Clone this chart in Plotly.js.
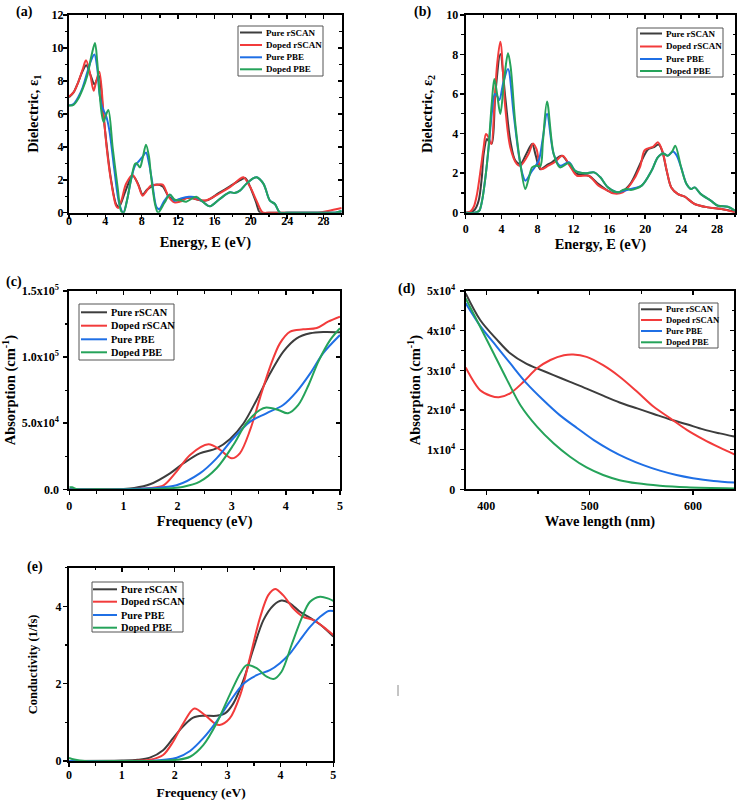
<!DOCTYPE html>
<html>
<head>
<meta charset="utf-8">
<script src="https://cdn.plot.ly/plotly-3.0.1.min.js"></script>
<style>
  html, body { margin: 0; padding: 0; background: #ffffff; }
  #chart { width: 738px; height: 800px; }
</style>
</head>
<body>
<div id="chart"></div>
<script>
// Series names shared by every panel
const seriesNames = ['Pure rSCAN', 'Doped rSCAN', 'Pure PBE', 'Doped PBE'];
const panelLabels = ['(a)', '(b)', '(c)', '(d)', '(e)'];

// (a) Real part of the dielectric function, epsilon_1 vs energy (eV)
const epsRealPureScanE  = [0, 0.5, 1.0, 1.5, 1.9, 2.4, 2.8, 3.3, 3.7, 4.1, 4.6, 5.2, 5.5, 6.2, 7.0, 7.6, 8.1, 8.6, 9.5, 10.3, 11.0, 11.8, 12.5, 13.3, 14.4, 15.2, 16.5, 17.7, 18.9, 19.4, 19.9, 20.6, 21.0, 22, 24, 26, 28, 30];
const epsRealPureScan   = [7.0, 7.3, 7.9, 8.6, 8.95, 8.3, 7.8, 8.3, 6.4, 4.3, 2.1, 0.5, 0.35, 1.3, 2.25, 1.75, 1.1, 1.4, 1.7, 1.6, 0.95, 0.75, 0.85, 0.9, 0.75, 0.75, 1.2, 1.6, 2.0, 2.1, 1.6, 0.6, 0.02, 0, 0, 0, 0, 0];
const epsRealDopedScanE = [0, 0.5, 1.0, 1.5, 1.87, 2.3, 2.71, 3.0, 3.34, 3.8, 4.14, 4.62, 5.17, 5.4, 5.8, 6.27, 7.0, 7.6, 8.1, 8.5, 9.0, 9.75, 10.3, 11.0, 11.6, 12.2, 13.1, 14.4, 15.1, 16.5, 17.7, 18.8, 19.2, 19.9, 20.65, 21.3, 22, 24, 26, 27.4, 28.5, 30];
const epsRealDopedScan  = [7.05, 7.3, 7.9, 8.7, 9.25, 8.5, 7.4, 8.0, 8.55, 6.0, 3.97, 1.94, 0.43, 0.28, 0.8, 1.74, 2.29, 1.7, 1.03, 1.3, 1.64, 1.7, 1.7, 0.93, 0.63, 0.67, 0.9, 0.77, 0.75, 1.15, 1.55, 2.05, 2.15, 1.6, 0.7, 0.02, 0, 0, 0, 0, 0.1, 0.28];
const epsRealPurePbeE   = [0, 0.5, 1.0, 1.5, 2.0, 2.4, 2.79, 3.1, 3.34, 3.6, 3.81, 4.07, 4.44, 5.0, 5.54, 5.98, 6.4, 6.8, 7.26, 7.74, 8.1, 8.47, 8.8, 9.13, 9.64, 9.94, 10.5, 11.1, 11.6, 12.3, 13.2, 14.0, 14.7, 15.5, 16.6, 17.7, 18.2, 18.8, 19.5, 20.3, 20.65, 21.4, 22.1, 22.65, 23.2, 24, 26, 28, 29.3, 30];
const epsRealPurePbe    = [6.5, 6.6, 7.0, 7.6, 8.5, 9.2, 9.6, 8.8, 7.3, 6.5, 6.2, 5.9, 5.0, 2.55, 0.53, 0.0, 0.8, 1.94, 2.85, 3.16, 3.4, 3.66, 3.0, 1.94, 0.32, 0.22, 0.73, 1.09, 0.73, 0.87, 0.97, 0.93, 0.67, 0.39, 0.84, 1.24, 1.2, 1.34, 1.75, 2.1, 2.15, 1.75, 0.73, 0.53, 0, 0, 0, 0, 0, 0.1];
const epsRealDopedPbeE  = [0, 0.5, 1.0, 1.5, 2.0, 2.5, 2.86, 3.1, 3.34, 3.6, 3.81, 4.05, 4.33, 4.8, 5.35, 5.72, 6.0, 6.4, 6.8, 7.26, 7.44, 7.8, 8.1, 8.47, 8.8, 9.0, 9.5, 9.8, 10.5, 11.1, 11.6, 12.3, 12.9, 14.0, 14.7, 15.5, 16.6, 17.7, 18.2, 18.8, 19.5, 20.3, 20.65, 21.4, 22.1, 22.65, 23.2, 24, 26, 28, 29.3, 30];
const epsRealDopedPbe   = [6.5, 6.55, 6.9, 7.5, 8.3, 9.6, 10.3, 9.2, 7.4, 6.0, 5.5, 5.9, 6.23, 3.97, 1.54, 0.12, 0, 0.8, 1.94, 2.96, 3.0, 2.75, 3.3, 4.13, 3.4, 2.35, 0.43, 0, 0.6, 1.1, 0.8, 0.75, 0.67, 0.97, 0.67, 0.39, 0.84, 1.24, 1.2, 1.34, 1.75, 2.1, 2.15, 1.75, 0.73, 0.53, 0, 0, 0, 0, 0, 0.1];

// (b) Imaginary part of the dielectric function, epsilon_2 vs energy (eV)
const epsImagPureScanE  = [0, 0.5, 1.0, 1.44, 1.8, 2.0, 2.37, 2.6, 2.9, 3.3, 3.86, 4.41, 4.97, 5.53, 6.09, 6.83, 7.4, 7.8, 8.3, 9.0, 9.6, 10.7, 11.5, 12.4, 13.7, 14.8, 15.85, 16.4, 17.5, 18.4, 19.6, 20.3, 20.9, 21.5, 21.9, 22.4, 22.9, 23.65, 24.4, 25.5, 27.0, 28.5, 30];
const epsImagPureScan   = [0, 0.02, 0.15, 0.6, 1.8, 2.97, 3.73, 3.6, 3.5, 6.0, 8.03, 5.83, 3.64, 2.63, 2.46, 3.05, 3.47, 2.9, 2.2, 2.4, 2.55, 2.88, 2.46, 1.96, 1.87, 1.45, 1.11, 1.0, 1.1, 1.5, 2.63, 3.2, 3.3, 3.45, 3.1, 2.1, 1.28, 0.94, 0.81, 0.44, 0.27, 0.19, 0.05];
const epsImagDopedScanE = [0, 0.5, 0.9, 1.26, 1.7, 2.0, 2.26, 2.55, 2.86, 3.2, 3.5, 3.86, 4.41, 4.97, 5.7, 6.09, 7.0, 7.5, 7.9, 8.4, 9.2, 9.9, 10.8, 11.7, 12.4, 13.7, 14.8, 15.85, 16.4, 17.5, 18.4, 19.4, 19.9, 20.3, 20.9, 21.4, 21.9, 22.4, 22.9, 23.65, 24.4, 25.5, 27.0, 28.5, 30];
const epsImagDopedScan  = [0, 0.05, 0.3, 0.94, 2.3, 3.3, 3.98, 3.8, 3.47, 5.5, 7.5, 8.65, 5.3, 3.3, 2.46, 2.38, 2.97, 3.5, 3.2, 2.2, 2.38, 2.55, 2.88, 2.29, 1.87, 1.87, 1.37, 1.11, 0.98, 1.03, 1.45, 2.29, 3.14, 3.25, 3.34, 3.56, 3.14, 2.12, 1.28, 0.94, 0.81, 0.44, 0.27, 0.19, 0.02];
const epsImagPurePbeE   = [0, 1.0, 1.5, 1.82, 2.2, 2.56, 2.9, 3.23, 3.5, 3.75, 4.2, 4.71, 5.34, 5.9, 6.3, 6.64, 7.4, 8.13, 8.6, 9.06, 9.8, 10.5, 11.5, 12.2, 13.3, 14.3, 15.0, 15.85, 16.96, 17.5, 18.4, 19.6, 20.7, 21.4, 22.0, 22.5, 23.1, 23.5, 24.0, 24.6, 25.1, 25.5, 26.2, 27.3, 28.1, 29.2, 30];
const epsImagPurePbe    = [0, 0.0, 0.1, 0.6, 1.8, 3.3, 5.0, 6.0, 5.9, 5.7, 6.6, 7.27, 5.0, 2.97, 2.0, 1.62, 2.12, 2.63, 3.8, 5.0, 2.97, 2.38, 2.55, 2.12, 1.99, 2.04, 1.79, 1.28, 1.03, 1.1, 1.2, 1.37, 2.12, 2.8, 3.0, 2.88, 3.1, 2.9, 2.29, 1.45, 1.2, 1.28, 0.94, 0.61, 0.35, 0.3, 0.1];
const epsImagDopedPbeE  = [0, 1.0, 1.5, 1.82, 2.2, 2.56, 2.9, 3.19, 3.5, 3.86, 4.3, 4.71, 5.0, 5.53, 6.09, 6.64, 7.0, 7.4, 7.83, 8.3, 8.6, 9.06, 9.8, 10.5, 11.5, 12.2, 13.3, 14.3, 15.0, 15.85, 16.96, 17.5, 18.0, 18.4, 19.6, 20.7, 21.4, 22.0, 22.5, 23.0, 23.35, 24.0, 24.6, 25.1, 25.5, 26.2, 27.3, 28.1, 29.2, 30];
const epsImagDopedPbe   = [0, 0, 0.1, 0.6, 1.8, 3.4, 5.5, 6.76, 6.0, 4.99, 6.8, 8.06, 7.4, 4.49, 2.46, 1.2, 1.7, 2.29, 2.38, 2.35, 3.6, 5.63, 2.97, 2.29, 2.51, 2.12, 1.99, 2.04, 1.79, 1.28, 1.03, 1.15, 1.2, 1.15, 1.37, 2.12, 2.8, 3.0, 2.88, 3.1, 3.39, 2.29, 1.45, 1.2, 1.28, 0.94, 0.61, 0.35, 0.3, 0.1];

// (c) Absorption coefficient (cm^-1) vs photon frequency (eV)
const absPureScanF  = [0, 0.5, 1.0, 1.2, 1.49, 1.86, 2.11, 2.41, 2.72, 2.97, 3.22, 3.46, 3.71, 3.95, 4.2, 4.45, 4.69, 5.0];
const absPureScan   = [0, 0, 300, 1000, 3800, 12100, 19700, 27200, 31000, 38100, 50000, 67600, 87700, 104000, 114200, 118000, 119000, 118800];
const absDopedScanF = [0, 1.0, 1.49, 1.74, 1.98, 2.23, 2.57, 2.78, 3.0, 3.15, 3.34, 3.52, 3.71, 3.89, 4.08, 4.32, 4.57, 4.78, 5.0];
const absDopedScan  = [0, 0, 1000, 3000, 13400, 26000, 34000, 30000, 23400, 27200, 44900, 68800, 92800, 110400, 119300, 121000, 122000, 126800, 130600];
const absPurePbeF   = [0, 1.0, 1.49, 1.98, 2.41, 2.72, 3.03, 3.34, 3.64, 3.95, 4.2, 4.45, 4.69, 5.0];
const absPurePbe    = [0, 0, 800, 3000, 12000, 23400, 38600, 51200, 57500, 63800, 73900, 87700, 103000, 116700];
const absDopedPbeF  = [0, 0.05, 0.15, 0.5, 1.5, 2.11, 2.41, 2.72, 3.03, 3.27, 3.52, 3.64, 3.86, 4.04, 4.23, 4.42, 4.6, 4.82, 5.0];
const absDopedPbe   = [1500, 1500, 0, 0, 0, 2000, 5800, 15900, 33500, 50000, 60000, 61800, 60000, 57500, 63800, 78900, 96600, 113000, 121800];

// (d) Absorption coefficient (cm^-1) vs wavelength (nm)
const wavePureScanL  = [380, 394, 410, 423, 439, 449, 465, 481, 497, 513, 529, 546, 562, 578, 594, 610, 626, 640];
const wavePureScan   = [49400, 42700, 37800, 34300, 31600, 30500, 28800, 27100, 25400, 23600, 21900, 20400, 19000, 17600, 16400, 15100, 14100, 13300];
const waveDopedScanL = [380, 384, 394, 404, 412, 423, 436, 449, 462, 475, 484, 497, 513, 529, 546, 562, 578, 594, 610, 626, 640];
const waveDopedScan  = [30700, 28800, 25000, 23600, 23200, 24200, 27100, 30500, 32600, 33800, 34000, 33400, 31300, 28400, 24600, 20800, 17900, 15000, 12600, 10500, 8800];
const wavePurePbeL   = [380, 394, 410, 423, 439, 455, 471, 488, 504, 520, 536, 552, 568, 584, 600, 620, 640];
const wavePurePbe    = [46900, 41200, 36000, 31800, 26700, 22500, 18700, 15400, 12400, 9900, 7800, 6100, 4700, 3600, 2800, 2100, 1700];
const waveDopedPbeL  = [380, 394, 407, 420, 433, 449, 465, 481, 497, 513, 529, 546, 568, 594, 640];
const waveDopedPbe   = [48100, 41000, 34300, 27600, 21200, 15800, 11600, 8200, 5500, 3600, 2300, 1500, 900, 500, 200];

// (e) Optical conductivity (1/fs) vs frequency (eV)
const condPureScanF  = [0, 1.0, 1.3, 1.53, 1.78, 1.97, 2.16, 2.35, 2.54, 2.79, 2.95, 3.11, 3.3, 3.49, 3.68, 3.87, 4.02, 4.18, 4.37, 4.56, 4.75, 5.0];
const condPureScan   = [0, 0.01, 0.03, 0.086, 0.28, 0.59, 0.9, 1.12, 1.17, 1.17, 1.23, 1.49, 2.09, 2.91, 3.65, 4.03, 4.15, 4.08, 3.86, 3.7, 3.53, 3.22];
const condDopedScanF = [0, 1.0, 1.53, 1.78, 1.97, 2.16, 2.37, 2.57, 2.76, 2.85, 3.04, 3.24, 3.42, 3.61, 3.77, 3.9, 4.05, 4.24, 4.43, 4.62, 4.81, 5.0];
const condDopedScan  = [0, 0, 0.03, 0.155, 0.5, 0.97, 1.36, 1.19, 0.97, 0.93, 1.1, 1.71, 2.66, 3.69, 4.29, 4.45, 4.29, 3.95, 3.73, 3.65, 3.47, 3.26];
const condPurePbeF   = [0, 1.0, 1.53, 2.04, 2.29, 2.54, 2.79, 3.04, 3.3, 3.55, 3.8, 3.99, 4.18, 4.37, 4.56, 4.75, 4.91, 5.0];
const condPurePbe    = [0, 0, 0, 0.086, 0.26, 0.59, 1.02, 1.53, 2.0, 2.22, 2.35, 2.53, 2.78, 3.13, 3.47, 3.73, 3.88, 3.88];
const condDopedPbeF  = [0, 0.1, 0.3, 1.0, 1.53, 2.04, 2.29, 2.54, 2.79, 3.04, 3.24, 3.36, 3.55, 3.74, 3.87, 4.02, 4.21, 4.4, 4.56, 4.75, 4.91, 5.0];
const condDopedPbe   = [0.08, 0.04, 0, 0, 0, 0.03, 0.11, 0.41, 0.97, 1.71, 2.27, 2.48, 2.4, 2.18, 2.12, 2.31, 3.0, 3.69, 4.12, 4.25, 4.2, 4.14];

// Tick labels for the absorption panels
const absFreqTickVals = [0, 50000, 100000, 150000];
const absFreqTickText = ['0.0', '5.0x10<sup>4</sup>', '1.0x10<sup>5</sup>', '1.5x10<sup>5</sup>'];
const absWaveTickVals = [0, 10000, 20000, 30000, 40000, 50000];
const absWaveTickText = ['0', '1x10<sup>4</sup>', '2x10<sup>4</sup>', '3x10<sup>4</sup>', '4x10<sup>4</sup>', '5x10<sup>4</sup>'];

// ---------------------------------------------------------------
const W = 738, H = 800;
const FONT = 'Liberation Serif, Times New Roman, serif';
const lineColors = ['#3d3d3d', '#f23b3b', '#1f6fe5', '#25a35a'];
const px = p => p / W;          // pixel -> paper x
const py = p => 1 - p / H;      // pixel -> paper y

const panelSeries = [
  [[epsRealPureScanE, epsRealPureScan], [epsRealDopedScanE, epsRealDopedScan], [epsRealPurePbeE, epsRealPurePbe], [epsRealDopedPbeE, epsRealDopedPbe]],
  [[epsImagPureScanE, epsImagPureScan], [epsImagDopedScanE, epsImagDopedScan], [epsImagPurePbeE, epsImagPurePbe], [epsImagDopedPbeE, epsImagDopedPbe]],
  [[absPureScanF, absPureScan], [absDopedScanF, absDopedScan], [absPurePbeF, absPurePbe], [absDopedPbeF, absDopedPbe]],
  [[wavePureScanL, wavePureScan], [waveDopedScanL, waveDopedScan], [wavePurePbeL, wavePurePbe], [waveDopedPbeL, waveDopedPbe]],
  [[condPureScanF, condPureScan], [condDopedScanF, condDopedScan], [condPurePbeF, condPurePbe], [condDopedPbeF, condDopedPbe]]
];

// Frame of each panel in pixels, axis setup, titles and legend geometry
const panels = [
  { box: [69, 15, 341.7, 212.7], xr: [0, 30], yr: [0, 12], xd: 4, xm: 2, yd: 2, ym: 1,
    xt: 'Energy, E (eV)', yt: 'Dielectric, ε<sub>1</sub>', xs: 10, ys: 10, xls: -8, yls: -3,
    xf: 14.5, yf: 14.5, lab: [24, 12],
    leg: { b: [238, 26, 323, 76], rows: [32.5, 45, 57.3, 69.3], l: [240, 262], t: 264, f: 9 } },
  { box: [465.7, 15, 735, 212.7], xr: [0, 30], yr: [0, 10], xd: 4, xm: 2, yd: 2, ym: 1,
    xt: 'Energy, E (eV)', yt: 'Dielectric, ε<sub>2</sub>', xs: 4, ys: 10, xls: 0, yls: -1,
    xf: 14.5, yf: 14.5, lab: [423, 12],
    leg: { b: [637, 28, 723, 77], rows: [33.5, 46.5, 59, 71], l: [640, 662], t: 664, f: 9 } },
  { box: [69.3, 291, 340, 489.3], xr: [0, 5], yr: [0, 150000], xd: 1, xm: 0.5, yd: null, ym: 25000,
    tv: absFreqTickVals, tt: absFreqTickText,
    xt: 'Frequency (eV)', yt: 'Absorption (cm<sup>-1</sup>)', xs: 4, ys: 6, xls: 0, yls: 2,
    xf: 14.5, yf: 14.5, lab: [14, 282],
    leg: { b: [79, 304, 174, 360], rows: [312.3, 325.7, 339.3, 352.3], l: [81, 107], t: 108.5, f: 10.3 } },
  { box: [465.7, 291, 734.3, 489.3], xr: [380, 640], yr: [0, 50000], xd: 100, xm: 50, yd: null, ym: 5000,
    tv: absWaveTickVals, tt: absWaveTickText,
    xt: 'Wave length (nm)', yt: 'Absorption (cm<sup>-1</sup>)', xs: 4, ys: 3, xls: 0, yls: 2,
    xf: 14.5, yf: 14.5, lab: [406, 289],
    leg: { b: [639, 303, 718, 348], rows: [309.3, 320, 331, 342.3], l: [641, 662], t: 663.5, f: 8.6 } },
  { box: [69, 567.7, 333.3, 761], xr: [0, 5], yr: [0, 5], xd: 1, xm: 0.5, yd: 2, ym: 1,
    xt: 'Frequency (eV)', yt: 'Conductivity (1/fs)', xs: 12, ys: 15, xls: -2, yls: -1,
    xf: 13.5, yf: 12.5, lab: [35, 567],
    leg: { b: [92, 582, 183, 632], rows: [589.3, 601.7, 615, 627.7], l: [93, 117], t: 118.5, f: 10.3 } }
];

const traces = [];
const layout = {
  width: W, height: H,
  margin: { l: 0, r: 0, t: 0, b: 0 },
  paper_bgcolor: '#ffffff', plot_bgcolor: '#ffffff',
  showlegend: false,
  font: { family: FONT, color: '#000000', size: 12, weight: 'bold' },
  shapes: [], annotations: []
};

const tickFont = { family: FONT, size: 12, color: '#000000', weight: 'bold' };

panels.forEach((p, i) => {
  const n = i + 1;
  const tn = n + 5;
  const xa = n === 1 ? 'xaxis' : 'xaxis' + n;
  const ya = n === 1 ? 'yaxis' : 'yaxis' + n;
  const xid = n === 1 ? 'x' : 'x' + n;
  const yid = n === 1 ? 'y' : 'y' + n;
  const [x0, y0, x1, y1] = p.box;
  const xTick0 = p.xr[0] === 380 ? 400 : 0;

  // curves; the last one sits on the mirrored top/right axes (same ranges),
  // so those axes are drawn and carry the inward ticks of the frame
  panelSeries[i].forEach((s, k) => {
    const onMirror = k === 3;
    traces.push({
      type: 'scatter', mode: 'lines', name: seriesNames[k],
      x: s[0], y: s[1],
      xaxis: onMirror ? 'x' + tn : xid, yaxis: onMirror ? 'y' + tn : yid,
      line: { color: lineColors[k], width: 2, shape: 'spline', smoothing: 0.9 },
      cliponaxis: true, hoverinfo: 'skip'
    });
  });

  // bottom / left axes: ticks pointing outward, with labels
  layout[xa] = {
    domain: [px(x0), px(x1)], anchor: yid, range: p.xr,
    showgrid: false, zeroline: false,
    showline: true, linecolor: '#000000', linewidth: 2,
    ticks: 'outside', ticklen: 4, tickwidth: 1.5, tickcolor: '#000000',
    tickmode: 'linear', tick0: xTick0, dtick: p.xd,
    ticklabelstandoff: p.xls,
    minor: { ticks: 'outside', ticklen: 2.5, tickwidth: 1.2, tickcolor: '#000000',
             tickmode: 'linear', tick0: xTick0, dtick: p.xm, showgrid: false },
    tickfont: tickFont,
    title: { text: p.xt, font: { family: FONT, size: p.xf, color: '#000000', weight: 'bold' }, standoff: p.xs },
    fixedrange: true
  };
  const yax = {
    domain: [py(y1), py(y0)], anchor: xid, range: p.yr,
    showgrid: false, zeroline: false,
    showline: true, linecolor: '#000000', linewidth: 2,
    ticks: 'outside', ticklen: 4, tickwidth: 1.5, tickcolor: '#000000',
    ticklabelstandoff: p.yls,
    minor: { ticks: 'outside', ticklen: 2.5, tickwidth: 1.2, tickcolor: '#000000',
             tickmode: 'linear', tick0: 0, dtick: p.ym, showgrid: false },
    tickfont: tickFont,
    title: { text: p.yt, font: { family: FONT, size: p.yf, color: '#000000', weight: 'bold' }, standoff: p.ys },
    fixedrange: true
  };
  if (p.tv) { yax.tickmode = 'array'; yax.tickvals = p.tv; yax.ticktext = p.tt; }
  else { yax.tickmode = 'linear'; yax.tick0 = 0; yax.dtick = p.yd; }
  layout[ya] = yax;

  // top / right mirrored frame with inward ticks
  layout['xaxis' + tn] = {
    overlaying: xid, anchor: 'y' + tn, side: 'top', range: p.xr,
    showgrid: false, zeroline: false, showticklabels: false,
    showline: true, linecolor: '#000000', linewidth: 2,
    ticks: 'inside', ticklen: 4, tickwidth: 1.5, tickcolor: '#000000',
    tickmode: 'linear', tick0: xTick0, dtick: p.xd,
    minor: { ticks: 'inside', ticklen: 2.5, tickwidth: 1.2, tickcolor: '#000000',
             tickmode: 'linear', tick0: xTick0, dtick: p.xm, showgrid: false },
    fixedrange: true
  };
  const yr = {
    overlaying: yid, anchor: 'x' + tn, side: 'right', range: p.yr,
    showgrid: false, zeroline: false, showticklabels: false,
    showline: true, linecolor: '#000000', linewidth: 2,
    ticks: 'inside', ticklen: 4, tickwidth: 1.5, tickcolor: '#000000',
    minor: { ticks: 'inside', ticklen: 2.5, tickwidth: 1.2, tickcolor: '#000000',
             tickmode: 'linear', tick0: 0, dtick: p.ym, showgrid: false },
    fixedrange: true
  };
  if (p.tv) { yr.tickmode = 'array'; yr.tickvals = p.tv; }
  else { yr.tickmode = 'linear'; yr.tick0 = 0; yr.dtick = p.yd; }
  layout['yaxis' + tn] = yr;

  // panel letter
  layout.annotations.push({
    xref: 'paper', yref: 'paper', x: px(p.lab[0]), y: py(p.lab[1]),
    xanchor: 'center', yanchor: 'middle', showarrow: false,
    text: panelLabels[i], font: { family: FONT, size: 14, color: '#000000', weight: 'bold' }
  });

  // boxed legend
  const L = p.leg;
  layout.shapes.push({
    type: 'rect', xref: 'paper', yref: 'paper',
    x0: px(L.b[0]), x1: px(L.b[2]), y0: py(L.b[3]), y1: py(L.b[1]),
    line: { color: '#555555', width: 1 }, fillcolor: 'rgba(255,255,255,0)', layer: 'above'
  });
  L.rows.forEach((r, k) => {
    layout.shapes.push({
      type: 'line', xref: 'paper', yref: 'paper',
      x0: px(L.l[0]), x1: px(L.l[1]), y0: py(r), y1: py(r),
      line: { color: lineColors[k], width: 2 }, layer: 'above'
    });
    layout.annotations.push({
      xref: 'paper', yref: 'paper', x: px(L.t), y: py(r),
      xanchor: 'left', yanchor: 'middle', showarrow: false,
      text: seriesNames[k], font: { family: FONT, size: L.f, color: '#000000', weight: 'bold' }
    });
  });
});

// small stray mark between the lower panels
layout.shapes.push({
  type: 'line', xref: 'paper', yref: 'paper',
  x0: px(398), x1: px(398), y0: py(685), y1: py(696),
  line: { color: '#8a8a8a', width: 1 }
});

Plotly.newPlot('chart', traces, layout, { staticPlot: true, displayModeBar: false });
</script>
</body>
</html>
